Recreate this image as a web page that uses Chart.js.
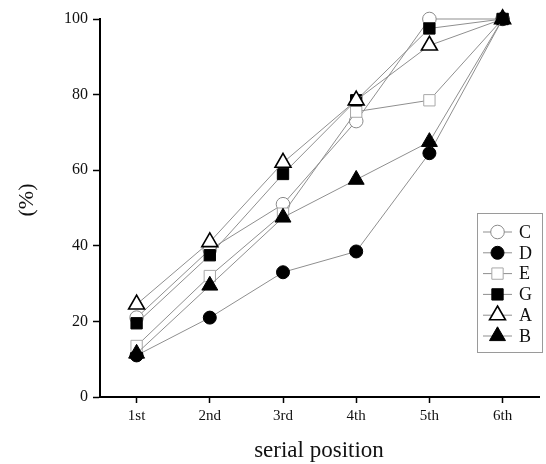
<!DOCTYPE html>
<html><head><meta charset="utf-8">
<script src="https://cdn.jsdelivr.net/npm/chart.js@4.4.1/dist/chart.umd.min.js"></script>
<style>html,body{margin:0;padding:0;background:#fff;overflow:hidden;width:546px;height:464px}canvas{display:block}</style>
</head><body><canvas id="c" width="550" height="464" style="width:550px;height:464px"></canvas>
<script>
// ---- data ----
const categories = ['1st', '2nd', '3rd', '4th', '5th', '6th'];
const yTicks = [0, 20, 40, 60, 80, 100];
const seriesNames = ['C', 'D', 'E', 'G', 'A', 'B'];
const seriesC = [21, 39, 51, 73, 100, 100];
const seriesD = [11, 21, 33, 38.5, 64.5, 100];
const seriesE = [13.5, 32, 48.5, 75.5, 78.5, 100];
const seriesG = [19.5, 37.5, 59, 78.5, 97.5, 100];
const seriesA = [24.5, 41, 62, 78.5, 93, 100];
const seriesB = [11.5, 29.5, 47.5, 57.5, 67.5, 100];
const seriesValues = [seriesC, seriesD, seriesE, seriesG, seriesA, seriesB];
const xTitle = 'serial position';
const yTitle = '(%)';

// ---- styles ----
const SERIF = '"Liberation Serif", "Times New Roman", Times, serif';
const LINE = '#8f8f8f';
const markerStyles = [
  {shape: 'circle',   r: 6.8, fill: '#ffffff', stroke: '#8a8a8a', bw: 1},
  {shape: 'circle',   r: 6.5, fill: '#000000', stroke: '#000000', bw: 1},
  {shape: 'rect',     r: 8,   fill: '#ffffff', stroke: '#a8a8a8', bw: 1},
  {shape: 'rect',     r: 8,   fill: '#000000', stroke: '#000000', bw: 1},
  {shape: 'triangle', r: 9.2, fill: '#ffffff', stroke: '#000000', bw: 1.6},
  {shape: 'triangle', r: 9.2, fill: '#000000', stroke: '#000000', bw: 1}
];

function drawMarker(ctx, s, x, y) {
  ctx.save();
  ctx.beginPath();
  if (s.shape === 'circle') {
    ctx.arc(x, y, s.r, 0, Math.PI * 2);
  } else if (s.shape === 'rect') {
    const h = s.r * Math.SQRT1_2;
    ctx.rect(x - h, y - h, 2 * h, 2 * h);
  } else {
    const r = s.r;
    ctx.moveTo(x, y - r);
    ctx.lineTo(x + r * 0.866, y + r / 2);
    ctx.lineTo(x - r * 0.866, y + r / 2);
    ctx.closePath();
  }
  ctx.fillStyle = s.fill;
  ctx.fill();
  ctx.lineWidth = s.bw;
  ctx.strokeStyle = s.stroke;
  ctx.stroke();
  ctx.restore();
}

const legendPlugin = {
  id: 'customLegendTitles',
  afterDraw(chart) {
    const ctx = chart.ctx;
    ctx.save();
    // legend box
    const bx = 477.5, by = 213.5, bw = 65, bh = 139;
    ctx.strokeStyle = '#9a9a9a';
    ctx.lineWidth = 1;
    ctx.strokeRect(bx, by, bw, bh);
    seriesNames.forEach((name, i) => {
      const y = 232 + i * 20.8;
      ctx.beginPath();
      ctx.moveTo(483, y);
      ctx.lineTo(512, y);
      ctx.strokeStyle = LINE;
      ctx.lineWidth = 1;
      ctx.stroke();
      drawMarker(ctx, markerStyles[i], 497.5, y);
      ctx.fillStyle = '#111';
      ctx.font = '18px ' + SERIF;
      ctx.textAlign = 'left';
      ctx.textBaseline = 'middle';
      ctx.fillText(name, 519, y + 1);
    });
    // axis titles
    ctx.fillStyle = '#111';
    ctx.font = '23px ' + SERIF;
    ctx.textAlign = 'center';
    ctx.textBaseline = 'alphabetic';
    ctx.fillText(xTitle, 319, 457);
    ctx.translate(27, 200);
    ctx.rotate(-Math.PI / 2);
    ctx.font = '22px ' + SERIF;
    ctx.textBaseline = 'middle';
    ctx.fillText(yTitle, 0, 0);
    ctx.restore();
  }
};

const datasets = seriesNames.map((name, i) => {
  const s = markerStyles[i];
  return {
    label: name,
    data: seriesValues[i],
    order: seriesNames.length - i,
    borderColor: LINE,
    borderWidth: 1,
    backgroundColor: s.fill,
    pointStyle: s.shape,
    pointRadius: s.r,
    pointHoverRadius: s.r,
    pointBackgroundColor: s.fill,
    pointBorderColor: s.stroke,
    pointBorderWidth: s.bw,
    tension: 0,
    fill: false,
    clip: false
  };
});

new Chart(document.getElementById('c'), {
  type: 'line',
  data: {labels: categories, datasets},
  plugins: [legendPlugin],
  options: {
    responsive: false,
    animation: false,
    devicePixelRatio: 1,
    layout: {padding: {top: 19, left: 0, right: 0, bottom: 0}},
    plugins: {legend: {display: false}, tooltip: {enabled: false}},
    scales: {
      x: {
        type: 'category',
        offset: true,
        grid: {offset: false, drawOnChartArea: false, drawTicks: true, tickLength: 6, tickColor: '#000', tickWidth: 1.5},
        border: {display: true, color: '#000', width: 2},
        ticks: {color: '#111', font: {family: SERIF, size: 15}, padding: 4, maxRotation: 0, autoSkip: false},
        afterFit(scale) { scale.height = 67; }
      },
      y: {
        min: yTicks[0],
        max: yTicks[yTicks.length - 1],
        afterBuildTicks(scale) { scale.ticks = yTicks.map(v => ({value: v})); },
        grid: {drawOnChartArea: false, drawTicks: true, tickLength: 7, tickColor: '#000', tickWidth: 1.5},
        border: {display: true, color: '#000', width: 2},
        ticks: {color: '#111', font: {family: SERIF, size: 16}, padding: 5},
        afterFit(scale) { scale.width = 100; }
      }
    }
  }
});
</script>
</body></html>
